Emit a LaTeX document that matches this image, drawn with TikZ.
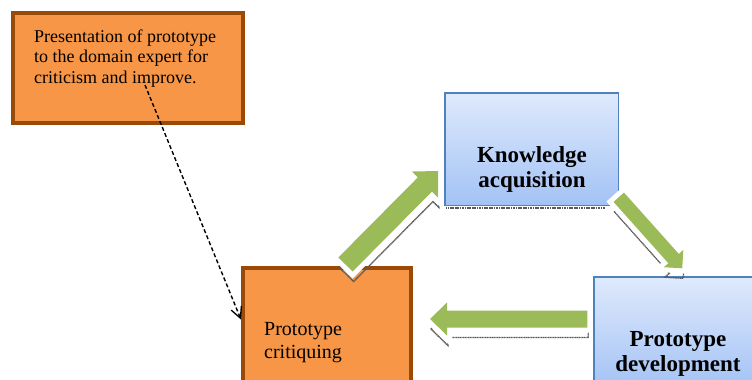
\documentclass[tikz,border=0pt]{standalone}
\usepackage{fontspec}
\setmainfont{Liberation Serif}
\usetikzlibrary{calc,arrows.meta}

\definecolor{boxorange}{RGB}{247,150,70}
\definecolor{boxbrown}{RGB}{154,74,8}
\definecolor{boxblue}{RGB}{79,129,189}
\definecolor{bluetop}{RGB}{223,234,252}
\definecolor{bluebottom}{RGB}{163,194,245}
\definecolor{arrowgreen}{RGB}{155,187,89}
\definecolor{shadowgrey}{RGB}{90,90,90}

\tikzset{
  orangebox/.style={rectangle, draw=boxbrown, fill=boxorange, line width=4pt, inner sep=0pt},
  bluebox/.style={rectangle, draw=boxblue, line width=1.5pt, top color=bluetop,
    bottom color=bluebottom, inner sep=0pt},
  notetext/.style={font=\fontsize{18}{20.5}\selectfont, align=left, inner sep=0pt},
  plaintext/.style={font=\fontsize{20}{23}\selectfont, align=left, inner sep=0pt},
  boldtext/.style={font=\fontsize{23}{25.5}\selectfont\bfseries, align=center, inner sep=0pt},
  greenarrow/.style={fill=arrowgreen, line join=miter,
    preaction={draw=white, line width=10pt, line join=miter}},
  shadowline/.style={draw=shadowgrey, line width=1.4pt, dash pattern=on 1.2pt off 0.5pt},
  arrowshadow/.style={shadowline, transform canvas={xshift=1pt, yshift=-10pt}},
  hintarrow/.style={draw=black, line width=1.4pt, dash pattern=on 4pt off 2.5pt,
    -{Straight Barb[length=11pt,width=11pt,line width=1.3pt]}}
}

% block arrow: style, tail, tip, shaft half width, head half width, head length
\newcommand\blockarrow[6]{%
  \coordinate (hb) at ($(#3)!#6!(#2)$);
  \path[#1] ($(#2)!#4!90:(#3)$) -- ($(hb)!#4!-90:(#2)$) -- ($(hb)!#5!-90:(#2)$)
    -- (#3) -- ($(hb)!#5!90:(#2)$) -- ($(hb)!#4!90:(#2)$) -- ($(#2)!#4!-90:(#3)$) -- cycle;
}

\begin{document}
\begin{tikzpicture}[x=1pt,y=-1pt]
\useasboundingbox (0,0) rectangle (752,380);
\clip (0,0) rectangle (752,380);

% boxes
\node[orangebox, minimum width=230pt, minimum height=110pt] (note) at (128,68) {};
\node[orangebox, minimum width=167.5pt, minimum height=132.5pt] (crit) at (326.75,333.75) {};
\node[bluebox, minimum width=173.5pt, minimum height=112.5pt] (know) at (531.5,149) {};
\node[bluebox, minimum width=173.5pt, minimum height=112.5pt] (devel) at (680.5,333) {};

% texts (base anchor sits on the last line)
\node[notetext, anchor=base west] (notetxt) at (34,83)
  {Presentation of prototype\\to the domain expert for\\criticism and improve.};
\node[plaintext, anchor=base west] (crittxt) at (264,358) {Prototype\\critiquing};
\node[boldtext, anchor=base] (knowtxt) at (532,187.5) {Knowledge\\acquisition};
\node[boldtext, anchor=base] (develtxt) at (678,371.5) {Prototype\\development};

% ends of the cycle arrows
\coordinate (ck-tail) at ($(crit.north)+(18.75,-1)$);
\coordinate (ck-tip)  at ($(know.west)+(-5.75,22)$);
\coordinate (kd-tail) at ($(know.south east)+(-0.25,-8.75)$);
\coordinate (kd-tip)  at ($(devel.north west)+(89.25,-7.75)$);
\coordinate (dc-tail) at ($(devel.west)+(-5.75,-14)$);
\coordinate (dc-tip)  at ($(crit.east)+(17.5,-14.75)$);

% soft shadows of the cycle arrows and of the upper box
\blockarrow{arrowshadow}{ck-tail}{ck-tip}{10pt}{18.4pt}{19pt}
\blockarrow{arrowshadow}{kd-tail}{kd-tip}{7pt}{13pt}{13pt}
\blockarrow{arrowshadow}{dc-tail}{dc-tip}{8.5pt}{16.5pt}{17pt}
\draw[shadowline] ($(know.south west)+(2.25,2)$) -- ($(know.south east)+(-14,2)$);

% cycle arrows
\blockarrow{greenarrow}{ck-tail}{ck-tip}{10pt}{18.4pt}{19pt}
\blockarrow{greenarrow}{kd-tail}{kd-tip}{7pt}{13pt}{13pt}
\blockarrow{greenarrow}{dc-tail}{dc-tip}{8.5pt}{16.5pt}{17pt}

% hint from the note to the critiquing step
\coordinate (hintstart) at (145,85);
\draw[hintarrow] (hintstart) -- ($(crit.north west)!0.396!(crit.south west)$);
\end{tikzpicture}
\end{document}
